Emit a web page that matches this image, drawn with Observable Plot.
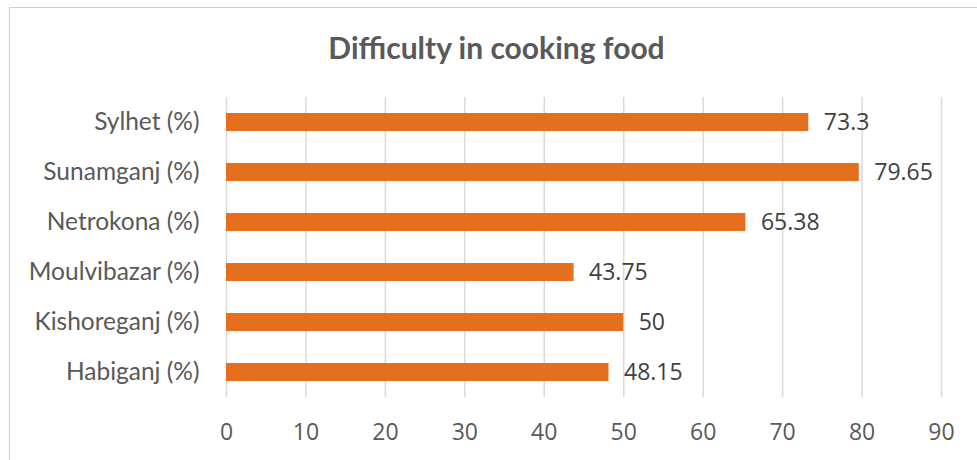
<!DOCTYPE html>
<html>
<head>
<meta charset="utf-8">
<script src="https://cdn.jsdelivr.net/npm/d3@7"></script>
<script src="https://cdn.jsdelivr.net/npm/@observablehq/plot@0.6"></script>
<style>
  body { margin: 0; background: #fff; }
  #wrap { position: relative; width: 977px; height: 460px; overflow: hidden; background: #fff; }
  #border { position: absolute; left: 9px; top: 7px; width: 990px; height: 480px; border: 1.5px solid #d0d0d0; }
  #title { position: absolute; left: 10px; top: 0; width: 973px; height: 94px; line-height: 94px; text-align: center;
           font-family: Lato, sans-serif; font-weight: bold; font-size: 30px; color: #595959; }
  #chart { position: absolute; left: 0; top: 97px; }
  #chart g[aria-label="y-axis tick label"] text { font-family: Lato, sans-serif; font-size: 24.5px; fill: #595959; }
  #chart g[aria-label="x-axis tick label"] text { font-family: "Open Sans", sans-serif; font-size: 23px; fill: #595959; }
</style>
</head>
<body>
<div id="wrap">
  <div id="border"></div>
  <div id="title">Difficulty in cooking food</div>
  <div id="chart"></div>
</div>
<script>
const categories = ["Sylhet (%)", "Sunamganj (%)", "Netrokona (%)", "Moulvibazar (%)", "Kishoreganj (%)", "Habiganj (%)"];
const values = [73.3, 79.65, 65.38, 43.75, 50, 48.15];
const xTicks = [0, 10, 20, 30, 40, 50, 60, 70, 80, 90];

const data = categories.map((c, i) => ({ category: c, value: values[i] }));

const chart = Plot.plot({
  width: 977,
  height: 363,
  marginTop: 0,
  marginLeft: 226,
  marginRight: 36,
  marginBottom: 63,
  style: { background: "transparent", fontFamily: "'Open Sans', sans-serif", overflow: "visible" },
  x: { domain: [0, 90], ticks: xTicks, label: null },
  y: { domain: categories, paddingInner: 0.64, paddingOuter: 0.32, label: null },
  marks: [
    Plot.gridX(xTicks, { stroke: "#d9d9d9", strokeOpacity: 1, strokeWidth: 1.5 }),
    Plot.barX(data, { x: "value", y: "category", fill: "#e46f1f" }),
    Plot.text(data, { x: "value", y: "category", text: d => String(d.value), textAnchor: "start", dx: 15, fontSize: 23, fill: "#404040", fontFamily: "'Open Sans', sans-serif" }),
    Plot.axisX({ ticks: xTicks, tickSize: 0, tickPadding: 26, label: null }),
    Plot.axisY({ tickSize: 0, tickPadding: 27, label: null })
  ]
});
document.getElementById("chart").appendChild(chart);
</script>
</body>
</html>
